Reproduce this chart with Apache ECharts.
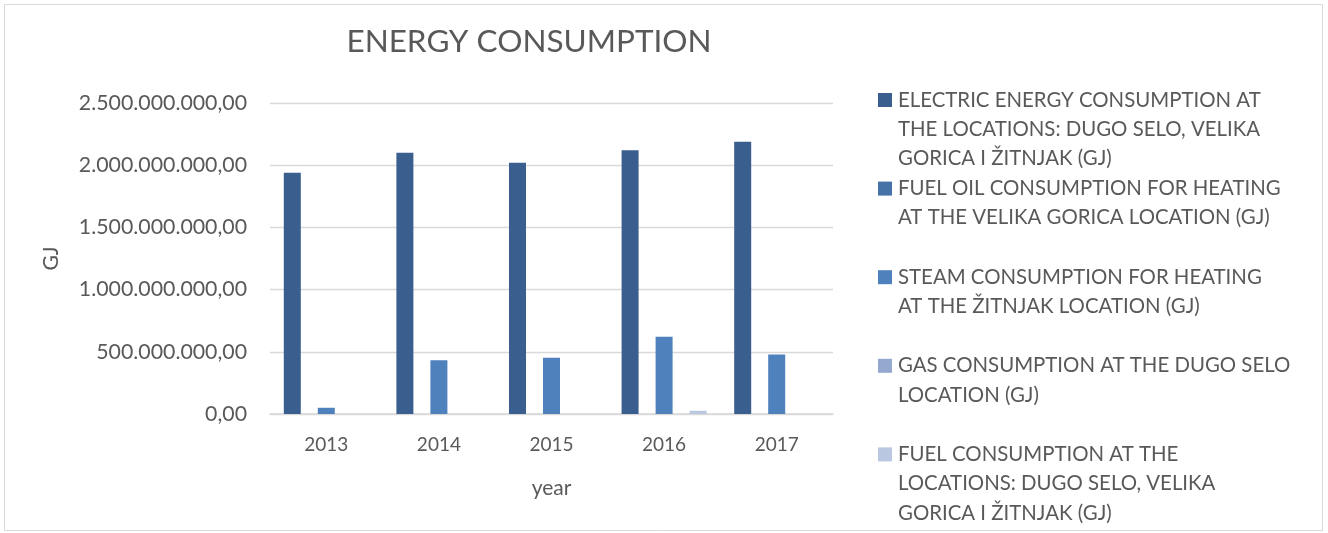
<!DOCTYPE html>
<html>
<head>
<meta charset="utf-8">
<script src="https://cdn.jsdelivr.net/npm/echarts@6/dist/echarts.min.js"></script>
<style>
  html, body { margin: 0; padding: 0; background: #fff; }
  #chart { width: 1328px; height: 533px; }
</style>
</head>
<body>
<div id="chart"></div>
<script>
// data (GJ)
var years = ['2013', '2014', '2015', '2016', '2017'];
var electric = [1939000000, 2100000000, 2019000000, 2121000000, 2188000000];
var fuelOil = [0, 0, 0, 0, 0];
var steam = [50000000, 432000000, 452000000, 620000000, 478000000];
var gas = [0, 0, 0, 0, 0];
var fuel = [0, 0, 0, 26000000, 0];
var yTicks = { min: 0, max: 2500000000, step: 500000000 };

var names = [
  'ELECTRIC ENERGY CONSUMPTION AT\nTHE LOCATIONS: DUGO SELO, VELIKA\nGORICA I ŽITNJAK (GJ)',
  'FUEL OIL CONSUMPTION FOR HEATING\nAT THE VELIKA GORICA LOCATION (GJ)',
  'STEAM CONSUMPTION FOR HEATING\nAT THE ŽITNJAK LOCATION (GJ)',
  'GAS CONSUMPTION AT THE DUGO SELO\nLOCATION (GJ)',
  'FUEL CONSUMPTION AT THE\nLOCATIONS: DUGO SELO, VELIKA\nGORICA I ŽITNJAK (GJ)'
];
var colors = ['#3a5f8e', '#4572a7', '#4f81bd', '#95a8cf', '#b9c7e0'];
var values = [electric, fuelOil, steam, gas, fuel];

var FONT = 'Lato';
var GREY = '#595959';

// 2.500.000.000,00 style
function fmt(v) {
  var s = Math.round(v).toString().replace(/\B(?=(\d{3})+(?!\d))/g, '.');
  return s + ',00';
}

// legend rich styles: coloured box on first line, indent on the rest
var rich = {
  t: { fontFamily: FONT, fontSize: 20.4, color: GREY, lineHeight: 29.3, padding: [0, 0, 0, 6] },
  sp: { width: 14, height: 14, lineHeight: 29.3 }
};
colors.forEach(function (c, i) {
  rich['b' + i] = { width: 14, height: 14, backgroundColor: c, lineHeight: 29.3 };
});

function legendText(name) {
  var idx = names.indexOf(name);
  var lines = name.split('\n');
  while (lines.length < 3) lines.push(' ');
  return lines.map(function (l, k) {
    return (k === 0 ? '{b' + idx + '|}' : '{sp|}') + '{t|' + l + '}';
  }).join('\n');
}

var chart = echarts.init(document.getElementById('chart'));
chart.setOption({
  animation: false,
  textStyle: { fontFamily: FONT },
  graphic: [{
    type: 'rect',
    shape: { x: 4.5, y: 4.5, width: 1318, height: 526 },
    style: { fill: 'none', stroke: '#d9d9d9', lineWidth: 1 },
    silent: true
  }],
  title: {
    text: 'ENERGY CONSUMPTION',
    left: 524,
    textAlign: 'center',
    top: 21,
    textStyle: { fontFamily: FONT, fontSize: 31.5, fontWeight: 'normal', color: GREY }
  },
  legend: {
    orient: 'vertical',
    left: 868,
    top: 85,
    itemGap: 10,
    itemWidth: 0,
    itemHeight: 0,
    icon: 'rect',
    data: names,
    formatter: legendText,
    textStyle: { rich: rich }
  },
  grid: { left: 270, right: 495, top: 103, bottom: 119 },
  xAxis: {
    type: 'category',
    data: years,
    name: 'year',
    nameLocation: 'middle',
    nameGap: 64,
    nameTextStyle: { fontFamily: FONT, fontSize: 21, color: GREY },
    axisTick: { show: false },
    axisLine: { lineStyle: { color: '#d9d9d9', width: 1.5 } },
    axisLabel: { fontFamily: FONT, fontSize: 19, color: GREY, margin: 21 }
  },
  yAxis: {
    type: 'value',
    min: yTicks.min,
    max: yTicks.max,
    interval: yTicks.step,
    name: 'GJ',
    nameLocation: 'middle',
    nameRotate: 90,
    nameGap: 208,
    nameTextStyle: { fontFamily: FONT, fontSize: 21, color: GREY },
    axisLine: { show: false },
    axisTick: { show: false },
    splitLine: { lineStyle: { color: '#d9d9d9', width: 1.3 } },
    axisLabel: { fontFamily: FONT, fontSize: 21.3, color: GREY, margin: 23, formatter: fmt }
  },
  series: names.map(function (n, i) {
    return {
      name: n,
      type: 'bar',
      data: values[i],
      barGap: '0%',
      barCategoryGap: '24.5%',
      itemStyle: { color: colors[i] }
    };
  })
});
</script>
</body>
</html>
